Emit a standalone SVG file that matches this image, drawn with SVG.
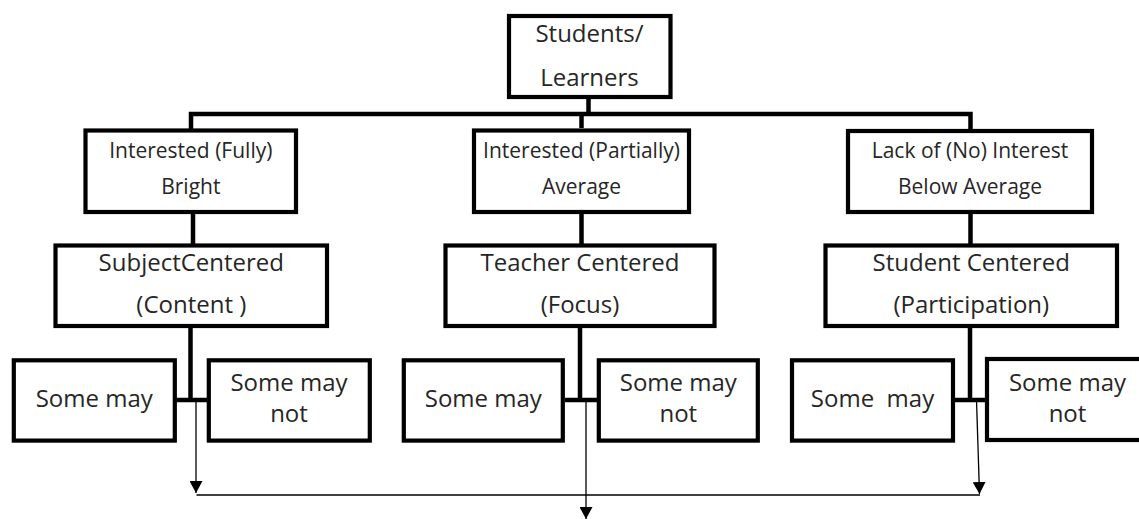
<svg xmlns="http://www.w3.org/2000/svg" width="1139" height="519" viewBox="0 0 1139 519">
<style>
.box{fill:#fff;stroke:#000;stroke-width:4.2}
.t{font-family:"Open Sans","Liberation Sans",sans-serif;fill:#262626;text-anchor:middle}
.s24{font-size:24px}
.s21{font-size:21px}
.thick{fill:none;stroke:#000;stroke-width:4.5}
.thin{fill:none;stroke:#000;stroke-width:1.3}
</style>
<defs>
<marker id="ah" markerUnits="userSpaceOnUse" markerWidth="12" markerHeight="13" refX="12" refY="6.5" orient="auto" viewBox="0 0 12 13">
<path d="M0,0 L12,6.5 L0,13 z" fill="#000"/>
</marker>
</defs>
<rect width="1139" height="519" fill="#fff"/>
<g id="connectors">
<path class="thick" d="M588.5,99 V114 M191,130 V114 H970.5 V130 M581.5,114 V128"/>
<path class="thick" d="M193,214 V244 M581.5,214 V244 M970.5,214 V244"/>
<path class="thick" d="M190.5,328 V400 M176,400 H207"/>
<path class="thick" d="M580,328 V400 M565,400 H597"/>
<path class="thick" d="M970,328 V400 M955,400 H985"/>
<path class="thin" d="M196,400 V493" marker-end="url(#ah)"/>
<path class="thin" d="M586,400 V519" marker-end="url(#ah)"/>
<path class="thin" d="M976.5,400 L979.5,494" marker-end="url(#ah)"/>
<path class="thin" d="M196.5,495 H980"/>
</g>
<g id="root">
<rect class="box" x="509" y="16" width="161.5" height="81"/>
<text class="t s24" x="589.5" y="42">Students/</text>
<text class="t s24" x="589.5" y="86">Learners</text>
</g>
<g id="fully">
<rect class="box" x="85.5" y="130.5" width="210.5" height="81.5"/>
<text class="t s21" x="190.8" y="158">Interested (Fully)</text>
<text class="t s21" x="190.8" y="194">Bright</text>
</g>
<g id="partially">
<rect class="box" x="474" y="130.5" width="215" height="81.5"/>
<text class="t s21" x="581.5" y="158">Interested (Partially)</text>
<text class="t s21" x="581.5" y="194">Average</text>
</g>
<g id="nointerest">
<rect class="box" x="848" y="131" width="244" height="81"/>
<text class="t s21" x="970" y="158">Lack of (No) Interest</text>
<text class="t s21" x="970" y="194">Below Average</text>
</g>
<g id="subject">
<rect class="box" x="55.5" y="245.5" width="271.5" height="80.5"/>
<text class="t s24" x="191.3" y="271">SubjectCentered</text>
<text class="t s24" x="191.3" y="313">(Content )</text>
</g>
<g id="teacher">
<rect class="box" x="445.5" y="245.5" width="269" height="80.5"/>
<text class="t s24" x="580" y="271">Teacher Centered</text>
<text class="t s24" x="580" y="313">(Focus)</text>
</g>
<g id="student">
<rect class="box" x="825.5" y="245.5" width="291.5" height="80.5"/>
<text class="t s24" x="971.3" y="271">Student Centered</text>
<text class="t s24" x="971.3" y="313">(Participation)</text>
</g>
<g id="may1">
<rect class="box" x="13.8" y="360.3" width="161" height="80.3"/>
<text class="t s24" x="94.2" y="406.5">Some may</text>
</g>
<g id="maynot1">
<rect class="box" x="208.8" y="360.3" width="161" height="80.3"/>
<text class="t s24" x="289" y="390.5">Some may</text>
<text class="t s24" x="289" y="421.5">not</text>
</g>
<g id="may2">
<rect class="box" x="403.8" y="360.3" width="159" height="80.3"/>
<text class="t s24" x="483.3" y="406.5">Some may</text>
</g>
<g id="maynot2">
<rect class="box" x="598.8" y="360.3" width="159" height="80.3"/>
<text class="t s24" x="678.3" y="390.5">Some may</text>
<text class="t s24" x="678.3" y="421.5">not</text>
</g>
<g id="may3">
<rect class="box" x="792" y="360.3" width="161" height="80.3"/>
<text class="t s24" x="872.5" y="406.5" xml:space="preserve">Some  may</text>
</g>
<g id="maynot3">
<rect class="box" x="987" y="359" width="161" height="81"/>
<text class="t s24" x="1067.5" y="390.5">Some may</text>
<text class="t s24" x="1067.5" y="421.5">not</text>
</g>
</svg>
